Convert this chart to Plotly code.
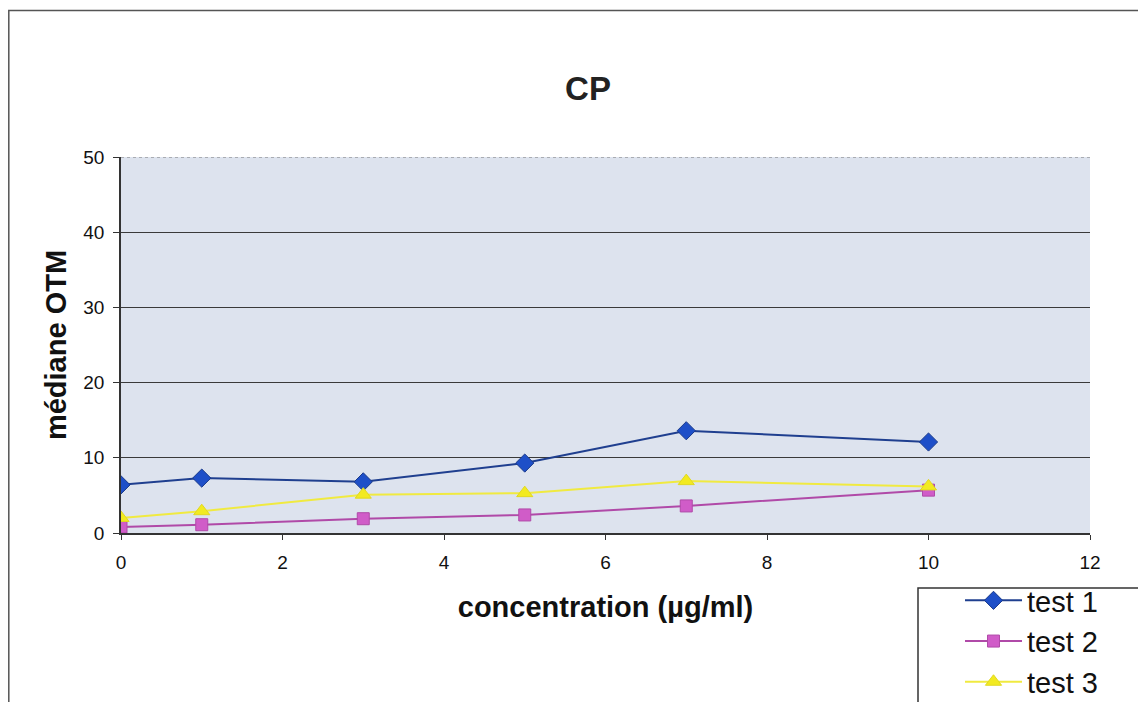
import plotly.graph_objects as go

concentration = [0, 1, 3, 5, 7, 10]
test1 = [6.4, 7.3, 6.8, 9.3, 13.6, 12.1]
test2 = [0.8, 1.1, 1.9, 2.4, 3.6, 5.7]
test3 = [2.0, 2.9, 5.1, 5.3, 6.9, 6.2]
series_names = ["test 1", "test 2", "test 3"]

# figure is drawn inside the page's default 8px body margin
W, H = 1138, 694
L, R, T, B = 113, 1082, 149, 525   # plot area in figure pixels


def cx(x):   # container fraction
    return x / W


def cy(y):
    return 1 - y / H


def px(x):   # paper (plot area) fraction
    return (x - L) / (R - L)


def py(y):
    return (B - y) / (B - T)


fig = go.Figure()
fig.add_trace(go.Scatter(x=concentration, y=test1, name=series_names[0], mode="lines+markers",
                         line=dict(color="#1f3f8f", width=2),
                         marker=dict(symbol="diamond", size=14, color="#1e4fc8", line=dict(color="#1a3a8a", width=1))))
fig.add_trace(go.Scatter(x=concentration, y=test2, name=series_names[1], mode="lines+markers",
                         line=dict(color="#b04aa8", width=2),
                         marker=dict(symbol="square", size=12, color="#d05cc8", line=dict(color="#b04aa8", width=1))))
fig.add_trace(go.Scatter(x=concentration, y=test3, name=series_names[2], mode="lines+markers",
                         line=dict(color="#f0ea40", width=2),
                         marker=dict(symbol="triangle-up", size=14, color="#f2ea20", line=dict(color="#e0d820", width=1))))

fig.update_layout(
    width=W, height=H,
    margin=dict(l=L, r=W - R, t=T, b=H - B, autoexpand=False),
    paper_bgcolor="white",
    plot_bgcolor="#dde3ee",
    title=dict(text="<b>CP</b>", x=cx(580), xanchor="center", y=cy(80), yanchor="middle",
               font=dict(family="Liberation Sans, Arial", size=33, color="#222")),
    font=dict(family="Liberation Sans, Arial", color="#111"),
    xaxis=dict(range=[0, 12], dtick=2, showgrid=False, zeroline=False,
               showline=True, linecolor="#333", linewidth=1.5,
               ticks="outside", ticklen=5, tickcolor="#333", ticklabelstandoff=6,
               tickfont=dict(size=19),
               title=dict(text="<b>concentration (µg/ml)</b>", font=dict(size=29), standoff=25)),
    yaxis=dict(range=[0, 50], dtick=10, showgrid=True, gridcolor="#3a3a3a", gridwidth=1,
               zeroline=False, showline=True, linecolor="#333", linewidth=1.5,
               ticks="outside", ticklen=6, tickcolor="#333", ticklabelstandoff=5,
               tickfont=dict(size=19),
               title=dict(text="<b>médiane OTM</b>", font=dict(size=29), standoff=8)),
    legend=dict(x=px(952), xanchor="left", y=py(567), yanchor="top",
                borderwidth=0, bgcolor="rgba(0,0,0,0)",
                font=dict(size=29, color="#111"), itemwidth=57, tracegroupgap=0),
    showlegend=True,
)
# outer chart border
fig.add_shape(type="rect", xref="paper", yref="paper",
              x0=px(0.8), x1=px(1300), y0=py(800), y1=py(2.5),
              line=dict(color="#555", width=1.5), fillcolor="rgba(0,0,0,0)", layer="below")
# legend box
fig.add_shape(type="rect", xref="paper", yref="paper",
              x0=px(910), x1=px(1300), y0=py(800), y1=py(580),
              line=dict(color="#333", width=1.5), fillcolor="white", layer="below")
# top plot border line (dotted look)
fig.add_shape(type="line", xref="paper", yref="y", x0=0, x1=1, y0=50, y1=50,
              line=dict(color="#777", width=1, dash="dot"))

fig.write_html("out.html")
